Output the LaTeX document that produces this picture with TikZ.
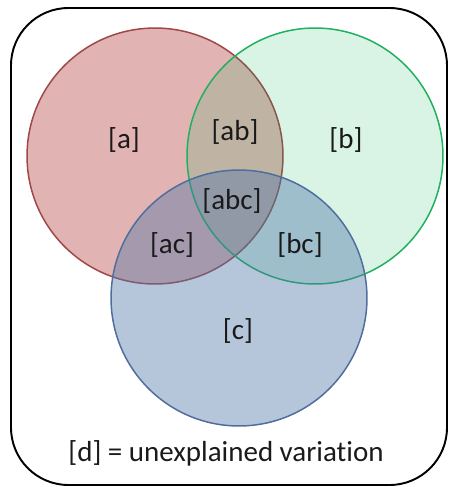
\documentclass[tikz,border=0pt]{standalone}
\usepackage{fontspec}
\setmainfont[RawFeature={-liga;-clig;-calt;-dlig}]{Carlito}
\usepackage{tikz}
\usetikzlibrary{positioning}
\definecolor{setRed}{HTML}{B84A48}
\definecolor{setRedLine}{HTML}{A04848}
\definecolor{setGreen}{HTML}{00B050}
\definecolor{setGreenLine}{HTML}{20B060}
\definecolor{setBlue}{HTML}{4F76A8}
\definecolor{setBlueLine}{HTML}{4F6E9E}
\definecolor{labelText}{HTML}{1A1A1A}
\tikzset{venn-set/.style={circle, draw, line width=0.85pt, minimum size=5.12cm, inner sep=0}}
\tikzset{red-set/.style={venn-set, draw=setRedLine, fill=setRed, fill opacity=0.42}}
\tikzset{green-set/.style={venn-set, draw=setGreenLine, fill=setGreen, fill opacity=0.15}}
\tikzset{blue-set/.style={venn-set, draw=setBlueLine, fill=setBlue, fill opacity=0.42}}
\tikzset{set-label/.style={text=labelText, font=\fontsize{16.5}{19}\selectfont, inner sep=1pt}}
\tikzset{frame-box/.style={draw, line width=1.1pt, rounded corners=1.15cm}}

\begin{document}
\begin{tikzpicture}[x=0.02cm, y=-0.02cm]
    \useasboundingbox (0,0) rectangle (452,487);
    \draw[frame-box] (11,8) rectangle (447,485);

    \node[red-set] (setA) at (155,156) {};
    \node[green-set] (setB) at (315,156) {};
    \node[blue-set] (setC) at (239,298) {};

    \node[set-label] (lblA) at (124,140) {[a]};
    \node[set-label] (lblB) at (346,140) {[b]};
    \node[set-label] (lblC) at (238,331) {[c]};
    \node[set-label] (lblAB) at (235,132) {[ab]};
    \node[set-label] (lblABC) at (232,201) {[abc]};
    \node[set-label] (lblAC) at (172,245) {[ac]};
    \node[set-label] (lblBC) at (300,245) {[bc]};
    \node[set-label] (lblD) at (226,453) {[d] = unexplained variation};
\end{tikzpicture}
\end{document}
